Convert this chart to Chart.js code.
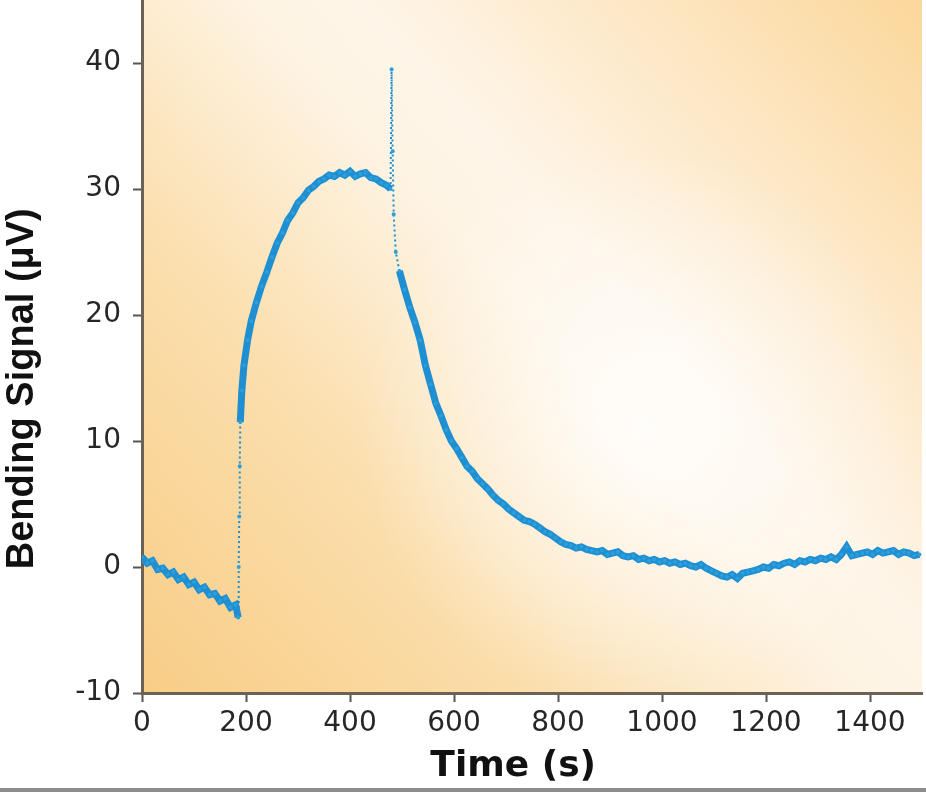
<!DOCTYPE html>
<html>
<head>
<meta charset="utf-8">
<script src="https://cdn.jsdelivr.net/npm/chart.js@4"></script>
<style>
  body { margin: 0; background: #fff; }
  .wrap { position: relative; width: 926px; height: 788px; }
  .frame { width: 926px; height: 4px; background: #8c8c8c; }
</style>
</head>
<body>
<div class="wrap"><canvas class="bend-chart"></canvas></div>
<div class="frame"></div>
<script>
// time in seconds, signal in microvolts
const times = [
  0, 10, 20, 30, 40, 50, 60, 70, 80, 90, 100, 110, 120, 130, 140, 150, 160, 170, 180, 185,
  186, 187, 188, 189, 192, 196, 203, 210, 220, 230, 240, 250, 260, 270, 280, 290, 300,
  310, 320, 330, 340, 350, 360, 370, 380, 390, 400, 410, 420, 430, 440, 450, 460, 470, 478,
  480, 482, 484, 488, 495, 505, 515, 525, 535, 545, 555, 565, 575, 585, 595, 605, 615, 625,
  635, 645, 655, 665, 675, 685, 695, 705, 715, 725, 735, 745, 755, 765, 775, 785, 795, 805,
  815, 825, 835, 845, 855, 865, 875, 885, 895, 905, 915, 925, 935, 945, 955, 965, 975, 985,
  995, 1005, 1015, 1025, 1035, 1045, 1055, 1065, 1075, 1085, 1095, 1105, 1115, 1125, 1135,
  1145, 1155, 1165, 1175, 1185, 1195, 1205, 1215, 1225, 1235, 1245, 1255, 1265, 1275, 1285,
  1295, 1305, 1315, 1325, 1335, 1345, 1355, 1365, 1375, 1385, 1395, 1405, 1415, 1425, 1435,
  1445, 1455, 1465, 1475, 1485, 1495
];
const signal = [
  0.8, 0.3, 0.5, -0.2, -0.1, -0.6, -0.4, -1.0, -0.8, -1.4, -1.2, -1.8, -1.6, -2.2, -2.1, -2.7, -2.5, -3.2, -3.0, -4.0,
  0.0, 4.0, 8.0, 11.5, 14.0, 16.0, 18.0, 19.5, 21.0, 22.3, 23.4, 24.6, 25.7, 26.5, 27.5, 28.1, 28.9,
  29.3, 29.9, 30.2, 30.6, 30.8, 31.1, 31.0, 31.3, 31.1, 31.4, 31.0, 31.2, 31.3, 30.9, 30.8, 30.5, 30.3, 30.0,
  39.5, 33.0, 28.0, 25.0, 23.5, 22.0, 20.6, 19.4, 18.0, 16.0, 14.5, 13.0, 12.0, 10.9, 10.0, 9.4, 8.7, 8.0,
  7.6, 7.0, 6.6, 6.2, 5.7, 5.3, 5.0, 4.6, 4.3, 4.0, 3.7, 3.6, 3.4, 3.1, 2.8, 2.6, 2.3, 2.0,
  1.8, 1.7, 1.5, 1.6, 1.4, 1.3, 1.2, 1.3, 1.0, 1.1, 1.2, 0.9, 0.8, 0.9, 0.6, 0.7, 0.5, 0.6,
  0.4, 0.5, 0.3, 0.4, 0.2, 0.3, 0.1, 0.0, 0.2, -0.1, -0.3, -0.5, -0.7, -0.8, -0.6,
  -0.9, -0.5, -0.4, -0.3, -0.2, 0.0, -0.1, 0.2, 0.1, 0.3, 0.4, 0.2, 0.5, 0.4, 0.6,
  0.5, 0.7, 0.6, 0.8, 0.6, 1.0, 1.6, 0.9, 1.0, 1.1, 1.2, 1.0, 1.3, 1.1, 1.2,
  1.3, 1.0, 1.2, 1.1, 0.9, 1.0
];

const xTicks = [0, 200, 400, 600, 800, 1000, 1200, 1400];
const yTicks = [-10, 0, 10, 20, 30, 40];

// the two fast jumps of the record (s) drawn as a dotted trail
const jumps = [[184, 189], [477, 495]];

const traceColor = '#1f8fd1';
const axisColor = '#6b6254';

// warm background behind the plot area
const backdrop = {
  id: 'backdrop',
  beforeDraw(chart) {
    const {ctx, chartArea: a} = chart;
    ctx.save();
    const lin = ctx.createLinearGradient(a.left, a.bottom, a.right, a.top);
    lin.addColorStop(0, '#f8cd86');
    lin.addColorStop(0.3, '#fbdfae');
    lin.addColorStop(0.52, '#fef4e4');
    lin.addColorStop(0.6, '#fef5e8');
    lin.addColorStop(0.82, '#fde5bf');
    lin.addColorStop(1, '#fbd79a');
    ctx.fillStyle = lin;
    ctx.fillRect(a.left, a.top, a.right - a.left, a.bottom - a.top);
    const glow = ctx.createRadialGradient(640, 430, 0, 640, 430, 280);
    glow.addColorStop(0, 'rgba(255,255,255,0.8)');
    glow.addColorStop(1, 'rgba(255,255,255,0)');
    ctx.fillStyle = glow;
    ctx.fillRect(a.left, a.top, a.right - a.left, a.bottom - a.top);
    ctx.restore();
  }
};

const points = times.map((t, i) => ({x: t, y: signal[i]}));

const inJump = (ctx) => jumps.some(([a, b]) => ctx.p0.parsed.x >= a && ctx.p0.parsed.x < b);

new Chart(document.querySelector('.bend-chart'), {
  type: 'scatter',
  data: {
    datasets: [{
      label: 'Bending signal',
      data: points,
      showLine: true,
      borderColor: traceColor,
      backgroundColor: '#2a9fdc',
      borderWidth: 7,
      pointRadius: 2,
      pointBorderWidth: 0,
      tension: 0,
      segment: {
        borderWidth: (ctx) => inJump(ctx) ? 2 : undefined,
        borderDash: (ctx) => inJump(ctx) ? [2, 3] : undefined
      }
    }]
  },
  plugins: [backdrop],
  options: {
    responsive: true,
    maintainAspectRatio: false,
    animation: false,
    layout: {autoPadding: false, padding: {left: 0, right: 4, top: 0, bottom: 0}},
    plugins: {legend: {display: false}, tooltip: {enabled: false}},
    scales: {
      x: {
        type: 'linear',
        min: 0,
        max: 1500,
        afterBuildTicks: (s) => { s.ticks = xTicks.map((v) => ({value: v})); },
        afterFit: (s) => {
          s.height = 95;
          s.paddingLeft = 0; s.paddingRight = 0;
        },
        border: {display: true, color: axisColor, width: 3},
        grid: {display: true, drawOnChartArea: false, tickLength: 9, tickWidth: 2, tickColor: '#555'},
        ticks: {
          color: '#262626',
          padding: 5,
          maxRotation: 0,
          callback: (v) => String(v),
          font: {family: 'DejaVu Sans', size: 28}
        },
        title: {
          display: true,
          text: 'Time (s)\u00a0\u00a0\u00a0',
          color: '#111',
          padding: {top: 0, bottom: 0},
          font: {family: 'DejaVu Sans', weight: 'bold', size: 36}
        }
      },
      y: {
        type: 'linear',
        min: -10,
        max: 45,
        afterBuildTicks: (s) => { s.ticks = yTicks.map((v) => ({value: v})); },
        afterFit: (s) => {
          s.width = 142;
          s.paddingTop = 0; s.paddingBottom = 0;
        },
        border: {display: true, color: axisColor, width: 3},
        grid: {display: true, drawOnChartArea: false, tickLength: 9, tickWidth: 2, tickColor: '#555'},
        ticks: {
          color: '#262626',
          padding: 12,
          callback: (v) => String(v),
          font: {family: 'DejaVu Sans', size: 28}
        },
        title: {
          display: true,
          text: 'Bending Signal (\u03bcV)\u00a0\u00a0\u00a0\u00a0\u00a0\u00a0\u00a0\u00a0',
          color: '#111',
          padding: {top: 0, bottom: 0},
          font: {family: 'Liberation Sans', weight: 'bold', size: 38}
        }
      }
    }
  }
});
</script>
</body>
</html>
